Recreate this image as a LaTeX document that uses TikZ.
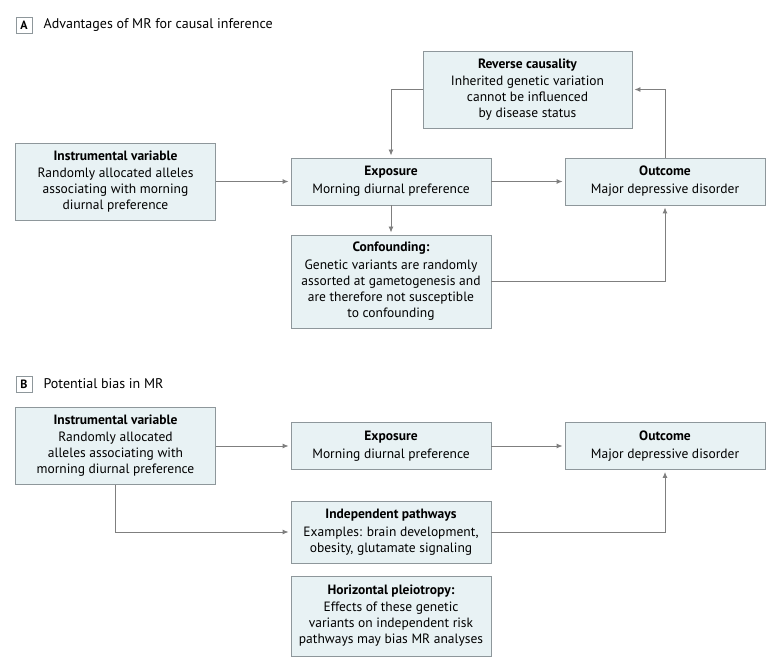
\documentclass[tikz,border=0pt]{standalone}
\usepackage{fontspec}
\setmainfont{PT Sans}
\usetikzlibrary{positioning, arrows.meta}
\definecolor{boxfill}{HTML}{E8F2F4}
\definecolor{boxline}{HTML}{8E979B}
\definecolor{arrowgray}{HTML}{7F7F7F}

\tikzset{
  panelbox/.style={draw=boxline, fill=boxfill, line width=0.9pt, align=center,
    minimum width=200pt, inner sep=0pt, font=\fontsize{13.5}{16}\selectfont},
  link/.style={draw=arrowgray, line width=0.9pt, shorten >=2pt,
    -{Latex[length=6pt, width=5pt]}},
  tag/.style={draw=boxline, line width=0.9pt, minimum size=16pt, inner sep=0pt,
    font=\bfseries\fontsize{12}{14}\selectfont},
  tagtext/.style={font=\fontsize{14}{16}\selectfont, inner sep=0pt},
}

\begin{document}
\begin{tikzpicture}[x=1pt, y=-1pt]
    \useasboundingbox (0,0) rectangle (780,668);

    % Panel A: advantages
    \node[tag] (tagA) at (24,25) {A};
    \node[tagtext, right=11pt of tagA] (titleA) {Advantages of MR for causal inference};

    \node[panelbox, minimum height=77pt] (ivA) at (115.5,181.5)
        {\textbf{Instrumental variable}\\[1pt] Randomly allocated alleles\\ associating with morning\\ diurnal preference};
    \node[panelbox, minimum height=47pt] (expA) at (391,181.5)
        {\textbf{Exposure}\\[2pt] Morning diurnal preference};
    \node[panelbox, minimum height=47pt] (outA) at (665,181.5)
        {\textbf{Outcome}\\[2pt] Major depressive disorder};
    \node[panelbox, minimum width=209pt, minimum height=77pt] (revA) at (527.5,89.5)
        {\textbf{Reverse causality}\\[1pt] Inherited genetic variation\\ cannot be influenced\\ by disease status};
    \node[panelbox, minimum height=93pt] (confA) at (391,281.5)
        {\textbf{Confounding:}\\[2pt] Genetic variants are randomly\\ assorted at gametogenesis and\\ are therefore not susceptible\\ to confounding};

    \draw[link] (ivA) -- (expA);
    \draw[link] (expA) -- (outA);
    \draw[link] (expA) -- (confA);
    \draw[link] (confA.east) -| (outA.south);
    \draw[link] (outA.north) |- (revA.east);
    \draw[link] (revA.west) -| (expA.north);

    % Panel B: potential bias
    \node[tag] (tagB) at (24,384) {B};
    \node[tagtext, right=11pt of tagB] (titleB) {Potential bias in MR};

    \node[panelbox, minimum height=77pt] (ivB) at (115.5,446)
        {\textbf{Instrumental variable}\\[1pt] Randomly allocated\\ alleles associating with\\ morning diurnal preference};
    \node[panelbox, minimum height=47pt] (expB) at (391,446)
        {\textbf{Exposure}\\[2pt] Morning diurnal preference};
    \node[panelbox, minimum height=47pt] (outB) at (665,446)
        {\textbf{Outcome}\\[2pt] Major depressive disorder};
    \node[panelbox, minimum height=62pt] (indB) at (391,532)
        {\textbf{Independent pathways}\\[2pt] Examples: brain development,\\ obesity, glutamate signaling};
    \node[panelbox, minimum height=80pt] (pleioB) at (391,616)
        {\textbf{Horizontal pleiotropy:}\\[1pt] Effects of these genetic\\ variants on independent risk\\ pathways may bias MR analyses};

    \draw[link] (ivB) -- (expB);
    \draw[link] (expB) -- (outB);
    \draw[link] (ivB.south) |- (indB.west);
    \draw[link] (indB.east) -| (outB.south);
\end{tikzpicture}
\end{document}
